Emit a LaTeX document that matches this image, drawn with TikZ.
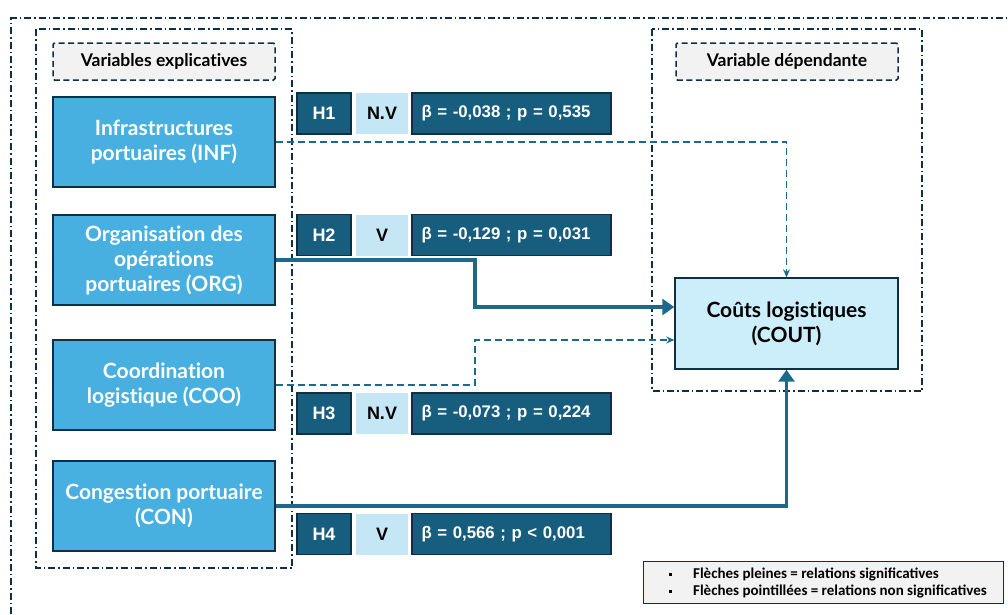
\documentclass[tikz,border=0pt]{standalone}
\usepackage{fontspec}
\setmainfont{Lato}[Ligatures={NoCommon}]
\newfontfamily\statfont{Liberation Sans}
\newfontfamily\legfont{Carlito}
\usetikzlibrary{arrows.meta}
\definecolor{darkline}{HTML}{0E2F44}
\definecolor{hfill}{HTML}{175E7E}
\definecolor{nvfill}{HTML}{C5E6F5}
\definecolor{varfill}{HTML}{47B0E0}
\definecolor{coutfill}{HTML}{CCEEFA}
\definecolor{labfill}{HTML}{F2F2F2}
\definecolor{arrowc}{HTML}{1B6A8E}
\frenchspacing
\tikzset{
  x=1pt, y=-1pt,
  frame/.style={draw=darkline, line width=1.4pt, dash pattern=on 7pt off 3pt on 1.5pt off 3pt},
  labbox/.style={draw=darkline, fill=labfill, line width=1.5pt, dash pattern=on 6pt off 3.5pt, rounded corners=1.5pt,
    minimum width=222pt, minimum height=37pt, inner sep=0pt, font=\bfseries\fontsize{17.5}{20}\selectfont},
  varbox/.style={draw=darkline, fill=varfill, line width=1.4pt, minimum width=222pt, minimum height=90pt,
    inner sep=0pt, align=center, text=white, font=\bfseries\fontsize{21}{25}\selectfont},
  coutbox/.style={draw=darkline, fill=coutfill, line width=1.4pt, minimum width=223pt, minimum height=91pt,
    inner sep=0pt, align=center, text=black, font=\bfseries\fontsize{21}{25}\selectfont},
  hbox/.style={draw=darkline, fill=hfill, line width=1.2pt, minimum width=54pt, minimum height=41pt,
    inner sep=0pt, text=white, font=\statfont\bfseries\fontsize{18}{20}\selectfont},
  nvbox/.style={fill=nvfill, minimum width=52pt, minimum height=41pt, inner sep=0pt,
    text=black, font=\statfont\bfseries\fontsize{18}{20}\selectfont},
  statbox/.style={draw=darkline, fill=hfill, line width=1.2pt, minimum width=199pt, minimum height=41pt,
    inner sep=0pt, text=white, text width=180pt, align=left, font=\statfont\bfseries\fontsize{16.8}{18}\selectfont},
  nsarrow/.style={draw=arrowc, line width=1.5pt, dash pattern=on 7pt off 4pt, -{Stealth[length=8pt,width=7pt]}},
  sarrow/.style={draw=arrowc, line width=3.4pt, -{Triangle[length=12pt,width=16pt]}},
  legbox/.style={draw=darkline, fill=labfill, line width=1.4pt, minimum width=360pt, minimum height=42pt,
    inner sep=0pt, align=left, font=\legfont\bfseries\fontsize{15}{17}\selectfont},
}
\newcommand{\sqb}{\rule[2pt]{3.5pt}{3.5pt}\hspace{21pt}}
\begin{document}
\begin{tikzpicture}
\useasboundingbox (0,0) rectangle (1008,614);
% outer frame
\draw[frame] (11,614) -- (11,18) -- (1008,18);
% inner frames
\draw[frame] (36,29) rectangle (292,568);
\draw[frame] (652,29) rectangle (922,391);
% labels
\node[labbox] (lexp) at (164,61.5) {Variables explicatives};
\node[labbox] (ldep) at (787,61.5) {Variable dépendante};
% variable boxes
\node[varbox] (inf) at (164,142) {Infrastructures\\portuaires (INF)};
\node[varbox] (org) at (164,260) {Organisation des\\opérations\\portuaires (ORG)};
\node[varbox] (coo) at (164,385) {Coordination\\logistique (COO)};
\node[varbox] (con) at (164,506) {Congestion portuaire\\(CON)};
\node[coutbox] (cout) at (786.5,323.5) {Coûts logistiques\\(COUT)};
% connectors
\coordinate (o1) at (475,307);
\coordinate (c1) at (475,340);
\draw[nsarrow] (inf.east) -| (cout.north);
\draw[sarrow] (org.east) -| (o1) -- (o1 -| cout.west);
\draw[nsarrow] (coo.east) -| (c1) -- (c1 -| cout.west);
\draw[sarrow] (con.east) -| (cout.south);
% hypotheses
\node[hbox] (h1) at (324,113.5) {H1};
\node[nvbox] (n1) at (382,113.5) {N.V};
\node[statbox] (s1) at (511.5,113.5) {β = -0,038 ; p = 0,535};
\node[hbox] (h2) at (324,235) {H2};
\node[nvbox] (n2) at (382,235) {V};
\node[statbox] (s2) at (511.5,235) {β = -0,129 ; p = 0,031};
\node[hbox] (h3) at (324,413.5) {H3};
\node[nvbox] (n3) at (382,413.5) {N.V};
\node[statbox] (s3) at (511.5,413.5) {β = -0,073 ; p = 0,224};
\node[hbox] (h4) at (324,534) {H4};
\node[nvbox] (n4) at (382,534) {V};
\node[statbox] (s4) at (511.5,534) {β = 0,566 ; p < 0,001};
% legend
\node[legbox, anchor=north west] (leg) at (643,561) {\hspace{8pt}\sqb Flèches pleines = relations significatives\\\hspace{8pt}\sqb Flèches pointillées = relations non significatives};
\end{tikzpicture}
\end{document}
